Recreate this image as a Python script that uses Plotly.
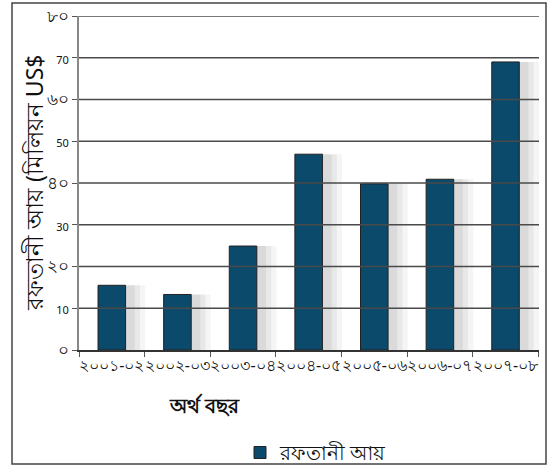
import plotly.graph_objects as go

categories = ["২০০১-০২", "২০০২-০৩", "২০০৩-০৪", "২০০৪-০৫", "২০০৫-০৬", "২০০৬-০৭", "২০০৭-০৮"]
values = [15.5, 13.3, 24.9, 46.9, 39.8, 40.9, 69.0]
series_name = "রফতানী আয়"
tick_vals = [0, 10, 20, 30, 40, 50, 60, 70, 80]
tick_text = ["০", "10", "২০", "30", "৪০", "50", "৬০", "70", "৮০"]
bengali_tick = [True, False, True, False, True, False, True, False, True]
y_title = "রফতানী আয় (মিলিয়ন US$"
x_title = "অর্থ বছর"

W, H = 550, 466
L, R, T, B = 79, 11, 16, 116
PW, PH = W - L - R, H - T - B
BAR_W = 0.42

ticktext_html = [
    (t if b else f'<span style="font-size:11px">{t}</span>')
    for t, b in zip(tick_text, bengali_tick)
]

fig = go.Figure()
# soft drop shadow behind bars (layered for a blurred look)
for extra, alpha in [(0.26, 0.04), (0.18, 0.05), (0.10, 0.06)]:
    fig.add_trace(go.Bar(
        x=categories, y=values, name="shadow", showlegend=False, hoverinfo="skip",
        width=BAR_W + extra, offset=-BAR_W / 2 + 0.04,
        marker=dict(color=f"rgba(0,0,0,{alpha})", line=dict(width=0)),
    ))
fig.add_trace(go.Bar(
    x=categories, y=values, name=series_name,
    width=BAR_W, offset=-BAR_W / 2,
    marker=dict(color="#0b4a6a", line=dict(color="#222222", width=1)),
    showlegend=True,
))

shapes = []
for v in tick_vals[1:]:
    shapes.append(dict(type="line", xref="paper", yref="y", x0=0, x1=1, y0=v, y1=v,
                       line=dict(color="#4a4a4a", width=1.5), layer="above"))
# outer frame
shapes.append(dict(type="rect", xref="paper", yref="paper",
                   x0=(12 - L) / PW, x1=(546 - L) / PW,
                   y0=-(464 - (H - B)) / PH, y1=1 + (T - 3) / PH,
                   line=dict(color="#444444", width=1.5), layer="below"))

fig.update_layout(
    width=W, height=H,
    margin=dict(l=L, r=R, t=T, b=B, autoexpand=False),
    paper_bgcolor="white", plot_bgcolor="white",
    barmode="overlay",
    font=dict(family="Noto Sans, DejaVu Sans", color="#111111"),
    shapes=shapes,
    showlegend=True,
    legend=dict(orientation="h", x=(240 - L) / PW, y=-(433 - (H - B)) / PH,
                xanchor="left", yanchor="top", font=dict(size=20, color="#111111"),
                bgcolor="rgba(0,0,0,0)"),
    xaxis=dict(
        type="category", tickson="boundaries", ticks="outside", ticklen=5,
        tickcolor="#555555", showgrid=False,
        showline=True, linecolor="#333333", linewidth=1.5,
        tickfont=dict(size=16, color="#111111"), tickangle=0,
    ),
    yaxis=dict(
        range=[0, 80], tickvals=tick_vals, ticktext=ticktext_html,
        ticks="outside", ticklen=5, tickcolor="#555555",
        showline=True, linecolor="#888888", linewidth=1.5,
        showgrid=False, zeroline=False,
        tickfont=dict(size=17, color="#111111"),
    ),
    annotations=[
        dict(text=y_title, xref="paper", yref="paper",
             x=(34 - L) / PW, y=(H - B - 183) / PH,
             textangle=-90, showarrow=False, xanchor="center", yanchor="middle",
             font=dict(size=23, color="#111111")),
        dict(text=f"<b>{x_title}</b>", xref="paper", yref="paper",
             x=(204 - L) / PW, y=-(405 - (H - B)) / PH,
             showarrow=False, xanchor="center", yanchor="middle",
             font=dict(size=20, color="#111111")),
    ],
)

fig.write_html("out.html")
